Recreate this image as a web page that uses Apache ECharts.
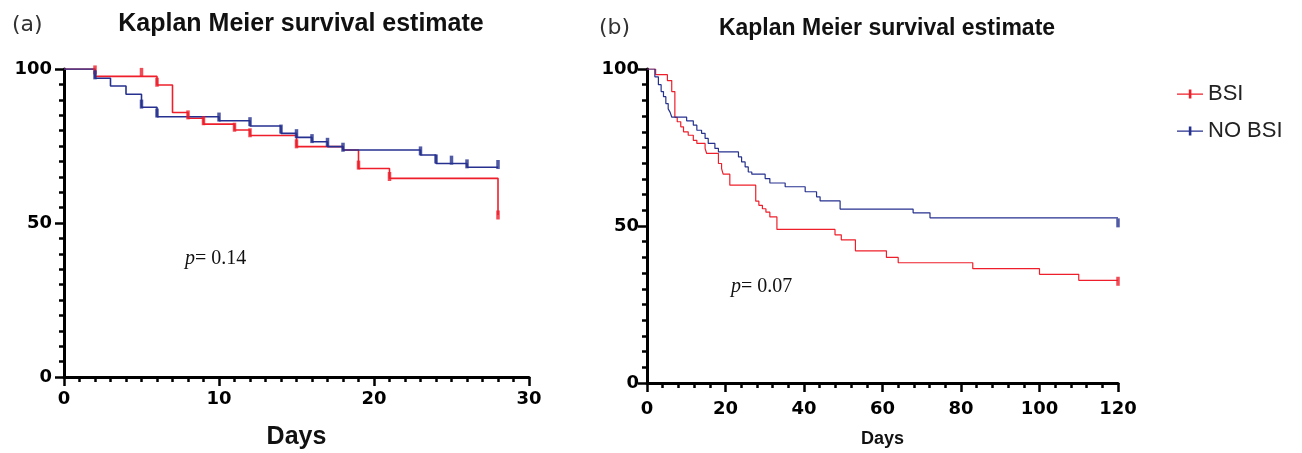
<!DOCTYPE html>
<html style="height: 100%">
<head>
    <meta charset="UTF-8" />
    <title>Kaplan Meier survival estimate</title>
    <script src="https://cdn.jsdelivr.net/npm/echarts@6.0.0/dist/echarts.min.js"></script>
</head>
<body style="height: 100%; margin: 0; background: #fff">
    <div id="main" style="width: 1302px; height: 453px; margin: 0"></div>
    <script type="text/javascript">

        // (a) 28-day survival
        var redA_days = [0, 2, 6, 7, 8, 9, 11, 12, 15, 18, 19, 21, 28];
        var redA_surv = [100, 97.6, 94.8, 85.9, 84.0, 82.1, 80.2, 78.4, 74.8, 73.7, 67.7, 64.5, 52.6];
        var blueA_days = [0, 2, 3, 4, 5, 6, 10, 12, 14, 15, 16, 17, 18, 23, 24, 26, 28];
        var blueA_surv = [100, 97.0, 94.5, 91.8, 87.6, 84.5, 83.2, 81.5, 79.1, 77.8, 76.4, 74.8, 73.7, 72.1, 69.3, 68.1, 68.1];
        var redA_cens_days = [2, 5, 6, 8, 9, 11, 12, 15, 19, 21, 28];
        var redA_cens_surv = [99.7, 98.9, 95.7, 85.1, 83.2, 81.1, 79.3, 75.7, 68.8, 65.1, 52.6];
        var blueA_cens_days = [2, 5, 6, 10, 12, 14, 15, 16, 17, 18, 23, 24, 25, 26, 28];
        var blueA_cens_surv = [98.1, 88.6, 85.7, 84.4, 82.9, 80.5, 79.0, 77.4, 76.2, 74.6, 73.4, 70.8, 70.4, 69.2, 69.0];

        // (b) 120-day survival
        var redB_days = [0, 2.2, 5.2, 6.3, 7.1, 7.7, 8.6, 9.3, 10.5, 11.8, 12.7, 14.8, 15.2, 18.2, 19.0, 19.4, 21.1,
            27.7, 28.5, 29.4, 30.3, 31.3, 33.1, 47.9, 49.5, 53.1, 61.0, 64.0, 83.0, 100.0, 110.0, 120];
        var redB_surv = [100, 98.2, 96.3, 92.8, 84.6, 83.2, 81.6, 80.0, 78.9, 77.3, 76.3, 74.7, 73.1, 69.9, 68.3, 66.5, 63.0,
            57.9, 56.6, 55.5, 54.4, 52.9, 48.9, 47.2, 45.6, 42.1, 40.0, 38.3, 36.4, 34.6, 32.7, 32.7];
        var blueB_days = [0, 2.0, 2.9, 3.6, 4.2, 4.8, 5.4, 5.9, 6.3, 10.1, 11.8, 12.7, 13.9, 14.8, 15.6, 17.3, 18.2,
            23.3, 24.1, 25.0, 25.8, 26.7, 30.1, 31.3, 35.2, 40.3, 43.2, 44.1, 49.2, 67.8, 72.1, 120];
        var blueB_surv = [100, 97.5, 95.0, 92.8, 91.2, 89.0, 87.3, 86.2, 84.7, 83.5, 82.1, 80.5, 79.5, 77.9, 76.3, 74.7, 73.6,
            72.0, 70.4, 68.8, 67.2, 66.5, 65.1, 63.7, 62.5, 60.9, 59.3, 58.0, 55.4, 54.2, 52.6, 52.6];
        var redB_cens_days = [120];
        var redB_cens_surv = [32.4];
        var blueB_cens_days = [120];
        var blueB_cens_surv = [51.0];

        var groups = ['BSI', 'NO BSI'];
        var RED = '#ee1f2b';
        var BLUE = '#26318f';

        function pairs(xs, ys)
        {
            var out = [];
            for (var i = 0; i < xs.length; i++)
                out.push([xs[i], ys[i]]);
            return out;
        }

        function xAxisFor(idx, max, interval, minorSplit, gap, nameSize, labelMargin)
        {
            return {
                gridIndex: idx, type: 'value', min: 0, max: max, interval: interval,
                name: 'Days', nameLocation: 'middle', nameGap: gap,
                nameTextStyle: { fontFamily: 'Liberation Sans', fontWeight: 'bold', fontSize: nameSize, color: '#111' },
                axisLine: { lineStyle: { color: '#000', width: 3 } },
                axisTick: { length: 9, lineStyle: { color: '#000', width: 2.5 } },
                minorTick: { show: true, splitNumber: minorSplit, length: 5, lineStyle: { color: '#000', width: 2.5 } },
                axisLabel: { fontFamily: 'DejaVu Sans', fontWeight: 'bold', fontSize: 18, color: '#000', margin: labelMargin },
                splitLine: { show: false }
            };
        }

        function yAxisFor(idx, labelMargin)
        {
            return {
                gridIndex: idx, type: 'value', min: 0, max: 100, interval: 50,
                axisLine: { lineStyle: { color: '#000', width: 3 } },
                axisTick: { length: 9, lineStyle: { color: '#000', width: 2.5 } },
                minorTick: { show: true, splitNumber: 10, length: 5, lineStyle: { color: '#000', width: 2.5 } },
                axisLabel: { fontFamily: 'DejaVu Sans', fontWeight: 'bold', fontSize: 18, color: '#000', margin: labelMargin },
                splitLine: { show: false }
            };
        }

        function stepLine(name, idx, data, color, width)
        {
            return {
                name: name, type: 'line', step: 'end', xAxisIndex: idx, yAxisIndex: idx,
                data: data, showSymbol: false, symbol: 'none',
                lineStyle: { color: color, width: width }, itemStyle: { color: color }
            };
        }

        function censorMarks(name, idx, data, color)
        {
            return {
                name: name, type: 'scatter', xAxisIndex: idx, yAxisIndex: idx,
                data: data, symbol: 'rect', symbolSize: [3.5, 9],
                itemStyle: { color: color }, z: 5
            };
        }

        var legendIcon = 'path://M0,4.4h26v1.4h-26z M11.8,0.5h2.6v9h-2.6z';

        var chartDom = document.getElementById('main');
        var myChart = echarts.init(chartDom);
        var option = {
            animation: false,
            backgroundColor: '#fff',
            title: [
                { text: 'Kaplan Meier survival estimate', left: 296, top: 7, textAlign: 'center',
                  textStyle: { fontFamily: 'Liberation Sans', fontWeight: 'bold', fontSize: 25, color: '#111' } },
                { text: 'Kaplan Meier survival estimate', left: 882, top: 12, textAlign: 'center',
                  textStyle: { fontFamily: 'Liberation Sans', fontWeight: 'bold', fontSize: 23, color: '#111' } },
                { text: '(a)', left: 7, top: 9, textStyle: { fontFamily: 'DejaVu Sans', fontWeight: 'normal', fontSize: 22, color: '#333' } },
                { text: '(b)', left: 594, top: 12, textStyle: { fontFamily: 'DejaVu Sans', fontWeight: 'normal', fontSize: 22, color: '#333' } },
                { text: '{i|p}= 0.14', left: 180, top: 244,
                  textStyle: { fontFamily: 'Liberation Serif', fontWeight: 'normal', fontSize: 20, color: '#111',
                      rich: { i: { fontFamily: 'Liberation Serif', fontStyle: 'italic', fontSize: 20, color: '#111' } } } },
                { text: '{i|p}= 0.07', left: 726, top: 272,
                  textStyle: { fontFamily: 'Liberation Serif', fontWeight: 'normal', fontSize: 20, color: '#111',
                      rich: { i: { fontFamily: 'Liberation Serif', fontStyle: 'italic', fontSize: 20, color: '#111' } } } }
            ],
            legend: {
                data: groups, orient: 'vertical', left: 1172, top: 78, itemGap: 15,
                itemWidth: 26, itemHeight: 10, icon: legendIcon,
                textStyle: { fontFamily: 'Liberation Sans', fontSize: 22, color: '#222' },
                selectedMode: false
            },
            grid: [
                { left: 64, top: 69, width: 465, height: 308, containLabel: false, outerBoundsMode: 'none' },
                { left: 647, top: 69, width: 471, height: 314, containLabel: false, outerBoundsMode: 'none' }
            ],
            xAxis: [
                xAxisFor(0, 30, 10, 10, 48, 25, 13),
                xAxisFor(1, 120, 20, 5, 47, 18, 17)
            ],
            yAxis: [
                yAxisFor(0, 12),
                yAxisFor(1, 8)
            ],
            series: [
                stepLine(groups[0], 0, pairs(redA_days, redA_surv), RED, 1.6),
                stepLine(groups[1], 0, pairs(blueA_days, blueA_surv), BLUE, 1.6),
                censorMarks('BSI censored', 0, pairs(redA_cens_days, redA_cens_surv), RED),
                censorMarks('NO BSI censored', 0, pairs(blueA_cens_days, blueA_cens_surv), BLUE),
                stepLine(groups[0], 1, pairs(redB_days, redB_surv), RED, 1.2),
                stepLine(groups[1], 1, pairs(blueB_days, blueB_surv), BLUE, 1.2),
                censorMarks('BSI censored', 1, pairs(redB_cens_days, redB_cens_surv), RED),
                censorMarks('NO BSI censored', 1, pairs(blueB_cens_days, blueB_cens_surv), BLUE)
            ]
        };

        if (option && typeof option === 'object')
        {
            myChart.setOption(option);
        }
    </script>
</body>
</html>
